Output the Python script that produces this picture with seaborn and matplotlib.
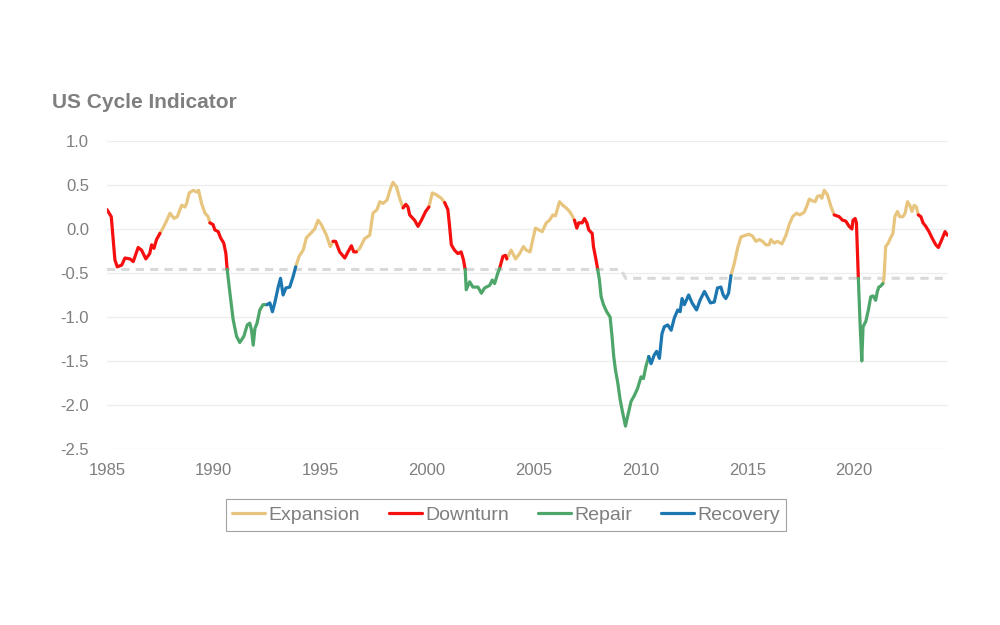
import numpy as np
import pandas as pd
import matplotlib
matplotlib.use("Agg")
import matplotlib.pyplot as plt
from matplotlib.lines import Line2D
import seaborn as sns

# indicator readings (decimal year, value)
years = [
    1985.00, 1985.20, 1985.37, 1985.48, 1985.69, 1985.84, 1986.08, 1986.23, 1986.46, 1986.62,
    1986.82, 1987.00, 1987.09, 1987.20, 1987.32, 1987.48, 1987.71, 1987.95, 1988.14, 1988.29,
    1988.50, 1988.65, 1988.73, 1988.85, 1989.04, 1989.20, 1989.29, 1989.43, 1989.59, 1989.74,
    1989.82, 1989.97, 1990.05, 1990.21, 1990.32, 1990.47, 1990.57, 1990.63, 1990.76, 1990.91,
    1991.07, 1991.22, 1991.41, 1991.57, 1991.69, 1991.77, 1991.85, 1991.93, 1992.03, 1992.16,
    1992.31, 1992.50, 1992.63, 1992.75, 1992.86, 1993.02, 1993.13, 1993.25, 1993.38, 1993.56,
    1993.72, 1993.84, 1994.00, 1994.19, 1994.34, 1994.58, 1994.73, 1994.89, 1995.04, 1995.28,
    1995.46, 1995.59, 1995.71, 1995.90, 1996.14, 1996.29, 1996.45, 1996.56, 1996.68, 1996.84,
    1997.07, 1997.31, 1997.46, 1997.65, 1997.78, 1997.93, 1998.12, 1998.28, 1998.40, 1998.56,
    1998.71, 1998.87, 1999.00, 1999.10, 1999.18, 1999.41, 1999.57, 1999.73, 1999.93, 2000.08,
    2000.24, 2000.42, 2000.66, 2000.82, 2000.97, 2001.05, 2001.13, 2001.28, 2001.44, 2001.59,
    2001.70, 2001.78, 2001.83, 2001.99, 2002.14, 2002.38, 2002.54, 2002.69, 2002.93, 2003.05,
    2003.16, 2003.31, 2003.39, 2003.55, 2003.67, 2003.73, 2003.93, 2004.14, 2004.33, 2004.51,
    2004.64, 2004.82, 2004.95, 2005.07, 2005.23, 2005.39, 2005.58, 2005.73, 2005.89, 2006.01,
    2006.20, 2006.35, 2006.51, 2006.67, 2006.82, 2006.90, 2007.01, 2007.10, 2007.26, 2007.37,
    2007.48, 2007.57, 2007.73, 2007.79, 2007.91, 2007.99, 2008.07, 2008.15, 2008.26, 2008.41,
    2008.57, 2008.66, 2008.74, 2008.82, 2008.93, 2009.04, 2009.16, 2009.29, 2009.39, 2009.55,
    2009.71, 2009.86, 2010.02, 2010.13, 2010.25, 2010.38, 2010.49, 2010.64, 2010.75, 2010.88,
    2011.00, 2011.11, 2011.27, 2011.43, 2011.58, 2011.74, 2011.85, 2011.94, 2012.05, 2012.25,
    2012.41, 2012.62, 2012.80, 2012.99, 2013.10, 2013.27, 2013.45, 2013.60, 2013.76, 2013.87,
    2013.99, 2014.12, 2014.23, 2014.39, 2014.54, 2014.70, 2014.93, 2015.09, 2015.24, 2015.40,
    2015.56, 2015.71, 2015.87, 2016.02, 2016.10, 2016.26, 2016.41, 2016.62, 2016.81, 2016.96,
    2017.12, 2017.30, 2017.46, 2017.66, 2017.77, 2017.90, 2018.05, 2018.18, 2018.28, 2018.39,
    2018.49, 2018.60, 2018.75, 2018.91, 2019.07, 2019.30, 2019.46, 2019.61, 2019.77, 2019.90,
    2019.95, 2020.05, 2020.11, 2020.20, 2020.28, 2020.36, 2020.42, 2020.55, 2020.67, 2020.78,
    2020.89, 2021.01, 2021.09, 2021.16, 2021.24, 2021.35, 2021.40, 2021.48, 2021.60, 2021.71,
    2021.82, 2021.91, 2022.03, 2022.14, 2022.29, 2022.39, 2022.50, 2022.61, 2022.71, 2022.82,
    2022.92, 2023.01, 2023.13, 2023.23, 2023.36, 2023.51, 2023.67, 2023.83, 2023.95, 2024.11,
    2024.26, 2024.37,
]
values = [
    0.22, 0.14, -0.35, -0.43, -0.41, -0.33, -0.34, -0.37, -0.21, -0.24,
    -0.34, -0.28, -0.18, -0.22, -0.12, -0.05, 0.05, 0.18, 0.12, 0.14,
    0.27, 0.25, 0.29, 0.41, 0.44, 0.42, 0.44, 0.29, 0.18, 0.14,
    0.07, 0.05, -0.01, -0.03, -0.10, -0.16, -0.28, -0.46, -0.73, -1.03,
    -1.22, -1.29, -1.22, -1.09, -1.07, -1.15, -1.32, -1.13, -1.07, -0.92,
    -0.86, -0.86, -0.84, -0.94, -0.84, -0.66, -0.56, -0.75, -0.67, -0.66,
    -0.54, -0.43, -0.31, -0.24, -0.10, -0.04, 0.00, 0.10, 0.05, -0.07,
    -0.20, -0.14, -0.14, -0.26, -0.33, -0.26, -0.19, -0.26, -0.26, -0.22,
    -0.11, -0.07, 0.18, 0.22, 0.31, 0.29, 0.33, 0.46, 0.53, 0.48,
    0.35, 0.24, 0.28, 0.25, 0.16, 0.10, 0.03, 0.10, 0.20, 0.25,
    0.41, 0.39, 0.35, 0.30, 0.22, 0.03, -0.18, -0.24, -0.28, -0.26,
    -0.35, -0.46, -0.69, -0.60, -0.66, -0.66, -0.73, -0.67, -0.64, -0.58,
    -0.62, -0.50, -0.45, -0.31, -0.30, -0.34, -0.24, -0.34, -0.28, -0.20,
    -0.24, -0.26, -0.12, 0.01, -0.01, -0.03, 0.07, 0.10, 0.16, 0.15,
    0.31, 0.27, 0.24, 0.20, 0.14, 0.10, 0.01, 0.07, 0.07, 0.12,
    0.07, -0.01, -0.05, -0.20, -0.35, -0.46, -0.58, -0.77, -0.86, -0.94,
    -1.00, -1.22, -1.45, -1.60, -1.75, -1.94, -2.09, -2.24, -2.13, -1.96,
    -1.89, -1.81, -1.68, -1.70, -1.56, -1.45, -1.53, -1.43, -1.39, -1.47,
    -1.19, -1.11, -1.09, -1.15, -1.01, -0.92, -0.94, -0.79, -0.86, -0.75,
    -0.84, -0.92, -0.80, -0.71, -0.76, -0.84, -0.83, -0.67, -0.66, -0.75,
    -0.79, -0.73, -0.53, -0.39, -0.22, -0.09, -0.07, -0.06, -0.08, -0.14,
    -0.12, -0.14, -0.18, -0.18, -0.12, -0.16, -0.14, -0.17, -0.07, 0.05,
    0.14, 0.18, 0.16, 0.19, 0.25, 0.34, 0.32, 0.31, 0.37, 0.38,
    0.35, 0.44, 0.39, 0.26, 0.16, 0.14, 0.10, 0.09, 0.03, 0.00,
    0.10, 0.12, 0.07, -0.56, -1.07, -1.50, -1.11, -1.05, -0.92, -0.77,
    -0.76, -0.81, -0.71, -0.66, -0.65, -0.62, -0.56, -0.20, -0.16, -0.10,
    -0.05, 0.14, 0.20, 0.14, 0.14, 0.18, 0.31, 0.27, 0.20, 0.27,
    0.25, 0.16, 0.14, 0.07, 0.03, -0.03, -0.11, -0.18, -0.21, -0.12,
    -0.03, -0.07,
]

# cycle phases: year each phase starts
phase_start = [1985.00, 1987.48, 1989.82, 1990.63, 1992.50, 1993.84, 1995.59, 1996.68,
               1998.87, 2000.08, 2000.82, 2001.78, 2003.39, 2003.73, 2006.90, 2007.99,
               2010.38, 2014.23, 2019.07, 2020.20, 2021.35, 2023.01]
phase_name = ["Downturn", "Expansion", "Downturn", "Repair", "Recovery", "Expansion",
              "Downturn", "Expansion", "Downturn", "Expansion", "Downturn", "Repair",
              "Downturn", "Expansion", "Downturn", "Repair", "Recovery", "Expansion",
              "Downturn", "Repair", "Expansion", "Downturn"]

# dashed threshold line
thr_years = [1985.0, 2009.08, 2009.30, 2024.4]
thr_values = [-0.46, -0.46, -0.56, -0.56]

phases = ["Expansion", "Downturn", "Repair", "Recovery"]
colors = {"Expansion": "#E8C57E", "Downturn": "#F50F0F",
          "Repair": "#4EA66A", "Recovery": "#1C77B0"}
grey = "#7F7F7F"

# split the series into coloured runs, sharing the boundary point
rows = []
for y, v in zip(years, values):
    k = int(np.searchsorted(phase_start, y + 1e-6)) - 1
    rows.append((k, phase_name[k], y, v))
    if k > 0 and abs(y - phase_start[k]) < 1e-6:
        rows.append((k - 1, phase_name[k - 1], y, v))
df = pd.DataFrame(rows, columns=["seg", "phase", "year", "value"])
thr = pd.DataFrame({"year": thr_years, "value": thr_values})

sns.set_theme(style="white")
plt.rcParams["font.family"] = ["Liberation Sans", "DejaVu Sans"]

fig = plt.figure(figsize=(10, 6.25), dpi=100)
ax = fig.add_axes([0.107, 0.2816, 0.841, 0.4928])

sns.lineplot(data=thr, x="year", y="value", ax=ax, color="#D9D9D9",
             linewidth=2.2, linestyle=(0, (2.7, 2.0)), estimator=None)
sns.lineplot(data=df, x="year", y="value", hue="phase", units="seg",
             estimator=None, palette=colors, hue_order=phases,
             linewidth=2.3, ax=ax, legend=False)

ax.set_xlim(1985, 2024.4)
ax.set_ylim(-2.5, 1.0)
ax.set_xticks(range(1985, 2021, 5))
ax.set_yticks(np.arange(-2.5, 1.01, 0.5))
ax.set_yticklabels([f"{t:.1f}" for t in np.arange(-2.5, 1.01, 0.5)])
ax.grid(axis="y", color="#EDEDED", linewidth=0.9)
ax.set_axisbelow(True)
for s in ax.spines.values():
    s.set_visible(False)
ax.tick_params(axis="both", length=0, labelsize=12, labelcolor=grey)
ax.tick_params(axis="y", pad=13)
ax.tick_params(axis="x", pad=10)
ax.set_xlabel("")
ax.set_ylabel("")

fig.text(0.052, 1 - 102 / 625, "US Cycle Indicator", fontsize=15,
         fontweight="bold", color=grey, va="center", ha="left")

handles = [Line2D([0], [0], color=colors[p], lw=2.3) for p in phases]
leg = fig.legend(handles, phases, loc="center", ncol=4,
                 bbox_to_anchor=(0.506, 1 - 515 / 625), frameon=True,
                 fancybox=False, fontsize=14, handlelength=1.7,
                 handletextpad=0.15, columnspacing=1.5, borderpad=0.35)
leg.get_frame().set_edgecolor("#8C8C8C")
leg.get_frame().set_linewidth(0.8)
for t in leg.get_texts():
    t.set_color(grey)

fig.savefig("out.png", dpi=100, facecolor="white")
